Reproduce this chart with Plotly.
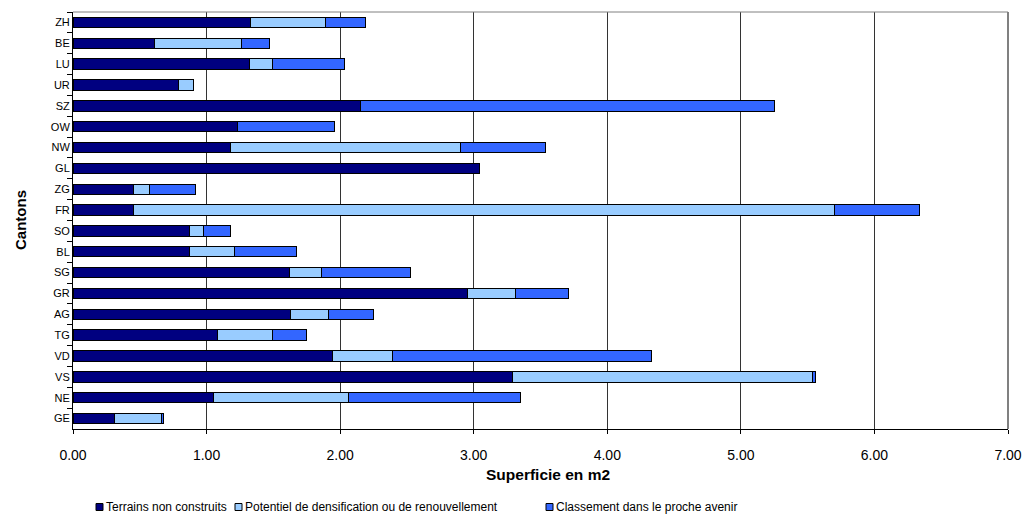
import plotly.graph_objects as go

cantons = ["ZH", "BE", "LU", "UR", "SZ", "OW", "NW", "GL", "ZG", "FR",
           "SO", "BL", "SG", "GR", "AG", "TG", "VD", "VS", "NE", "GE"]
terrains = [1.33, 0.61, 1.32, 0.79, 2.15, 1.23, 1.18, 3.04, 0.45, 0.45,
            0.87, 0.87, 1.62, 2.95, 1.63, 1.08, 1.94, 3.29, 1.05, 0.31]
potentiel = [0.56, 0.65, 0.17, 0.11, 0.00, 0.00, 1.72, 0.00, 0.12, 5.25,
             0.11, 0.34, 0.24, 0.36, 0.28, 0.41, 0.45, 2.25, 1.01, 0.35]
classement = [0.30, 0.21, 0.54, 0.00, 3.10, 0.73, 0.64, 0.00, 0.35, 0.64,
              0.20, 0.46, 0.67, 0.40, 0.34, 0.26, 1.94, 0.02, 1.29, 0.02]
series_names = ["Terrains non construits",
                "Potentiel de densification ou de renouvellement",
                "Classement dans le proche avenir"]
colors = ["#000080", "#99CCFF", "#3366FF"]
x_ticks = [0, 1, 2, 3, 4, 5, 6, 7]

# plot area in pixels
L, R, T, B = 73, 1008, 12, 429
W, H = R - L, B - T
def px(x):
    return (x - L) / W
def py(y):
    return (B - y) / H

fig = go.Figure()
for name, vals, col in zip(series_names, [terrains, potentiel, classement], colors):
    fig.add_trace(go.Bar(
        y=cantons, x=vals, name=name, orientation="h",
        marker=dict(color=col, line=dict(color="#000000", width=1)),
        showlegend=False,
    ))

font = "Liberation Sans, Arial, sans-serif"
fig.update_layout(
    barmode="stack",
    bargap=0.5,
    width=1024, height=515,
    margin=dict(l=L, r=1024 - R, t=T, b=515 - B, autoexpand=False),
    plot_bgcolor="white", paper_bgcolor="white",
    font=dict(family=font, size=11, color="#000000"),
    showlegend=False,
    xaxis=dict(range=[0, 7], tickvals=x_ticks, tickformat=".2f",
               showgrid=True, gridcolor="#333333", gridwidth=1,
               showline=True, linecolor="#000000", linewidth=1,
               ticks="outside", ticklen=4, tickcolor="#000000",
               tickfont=dict(size=14, family=font), ticklabelstandoff=9,
               zeroline=False, automargin=False),
    yaxis=dict(autorange="reversed", showline=True, linecolor="#000000", linewidth=1,
               ticks="outside", ticklen=5, tickcolor="#000000", tickson="boundaries",
               tickfont=dict(size=11, family=font), showgrid=False, automargin=False),
)
# axis titles
fig.add_annotation(text="<b>Cantons</b>", xref="paper", yref="paper", x=px(20), y=py(220),
                   textangle=-90, showarrow=False, font=dict(size=15, family=font),
                   xanchor="center", yanchor="middle")
fig.add_annotation(text="<b>Superficie en m2</b>", xref="paper", yref="paper", x=px(548), y=py(474),
                   showarrow=False, font=dict(size=15.5, family=font),
                   xanchor="center", yanchor="middle")
# grey frame on top and right
fig.add_shape(type="line", xref="paper", yref="paper", x0=0, x1=1, y0=1, y1=1,
              line=dict(color="#808080", width=1))
fig.add_shape(type="line", xref="paper", yref="paper", x0=1, x1=1, y0=0, y1=1,
              line=dict(color="#808080", width=2))

# manual compact legend
leg_sq_x = [96, 235, 546]
leg_tx_x = [105, 244, 555]
leg_y = 507
for name, col, sx, tx in zip(series_names, colors, leg_sq_x, leg_tx_x):
    fig.add_shape(type="rect", xref="paper", yref="paper",
                  x0=px(sx), x1=px(sx + 7), y0=py(leg_y - 3.5), y1=py(leg_y + 3.5),
                  fillcolor=col, line=dict(color="#000000", width=1))
    fig.add_annotation(text=name, xref="paper", yref="paper", x=px(tx), y=py(leg_y),
                       xanchor="left", yanchor="middle", showarrow=False,
                       font=dict(size=12, family=font), borderpad=0)

fig.write_html("out.html", config={"displayModeBar": False},
               post_script="document.body.style.margin='0';document.body.style.overflow='hidden';")
